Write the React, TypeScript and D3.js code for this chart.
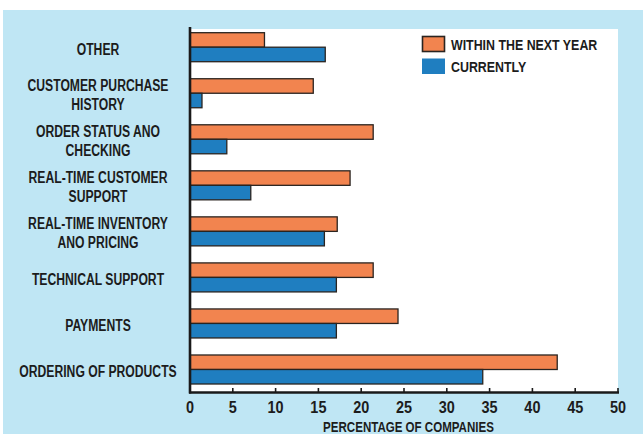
import React from "react";
import * as d3 from "d3";

const categories: string[][] = [
  ["OTHER"],
  ["CUSTOMER PURCHASE", "HISTORY"],
  ["ORDER STATUS ANO", "CHECKING"],
  ["REAL-TIME CUSTOMER", "SUPPORT"],
  ["REAL-TIME INVENTORY", "ANO PRICING"],
  ["TECHNICAL SUPPORT"],
  ["PAYMENTS"],
  ["ORDERING OF PRODUCTS"],
];
const seriesNames = ["WITHIN THE NEXT YEAR", "CURRENTLY"];
const nextYear = [8.7, 14.4, 21.4, 18.7, 17.2, 21.4, 24.3, 42.9];
const currently = [15.8, 1.4, 4.3, 7.1, 15.7, 17.1, 17.1, 34.2];
const xTicks = [0, 5, 10, 15, 20, 25, 30, 35, 40, 45, 50];
const axisTitle = "PERCENTAGE OF COMPANIES";

const W = 643;
const H = 434;
const FONT = "'Liberation Sans', Arial, sans-serif";
const ORANGE = "#F2844F";
const BLUE = "#1F7EC0";
const OUTLINE = "#2a2420";
const BG = "#BFE6F4";
const TEXT = "#1c1c1c";

type CTProps = {
  x: number;
  y: number;
  size: number;
  sx: number;
  anchor?: "start" | "middle" | "end";
  children: React.ReactNode;
};

function CText({ x, y, size, sx, anchor = "start", children }: CTProps) {
  return (
    <text
      transform={`translate(${x},${y}) scale(${sx},1)`}
      textAnchor={anchor}
      fontSize={size}
      fill={TEXT}
    >
      {children}
    </text>
  );
}

export default function App() {
  const x = d3.scaleLinear().domain([0, 50]).range([190, 618]);
  const keys = categories.map((c) => c.join(" "));
  const y = d3
    .scaleBand<string>()
    .domain(keys)
    .range([32.7, 384])
    .paddingInner(0.37)
    .paddingOuter(0);
  const sub = d3
    .scaleBand<string>()
    .domain(seriesNames)
    .range([0, y.bandwidth()]);
  const series = [
    { name: seriesNames[0], values: nextYear, color: ORANGE },
    { name: seriesNames[1], values: currently, color: BLUE },
  ];
  const axisY = 392.5;

  return (
    <svg
      width={W}
      height={H}
      style={{ position: "fixed", left: 0, top: 0 }}
      fontFamily={FONT}
      fontWeight="bold"
    >
      <rect x={0} y={0} width={W} height={H} fill="#ffffff" />
      <rect x={3} y={10} width={W - 3} height={H - 10} fill={BG} />
      <rect x={x(0)} y={29} width={x(50) - x(0)} height={axisY - 29} fill="#ffffff" />

      {series.map((s) =>
        s.values.map((v, i) => (
          <rect
            key={s.name + i}
            x={x(0)}
            y={(y(keys[i]) as number) + (sub(s.name) as number)}
            width={x(v) - x(0)}
            height={sub.bandwidth()}
            fill={s.color}
            stroke={OUTLINE}
            strokeWidth={1.3}
          />
        ))
      )}

      {categories.map((lines, i) => {
        const cy = (y(keys[i]) as number) + y.bandwidth() / 2 + 1.5;
        const lh = 19;
        const start = cy - ((lines.length - 1) * lh) / 2 + 5.8;
        return (
          <g key={keys[i]}>
            {lines.map((ln, j) => (
              <CText key={j} x={98} y={start + j * lh} size={16} sx={0.76} anchor="middle">
                {ln}
              </CText>
            ))}
          </g>
        );
      })}

      <line x1={x(0)} x2={x(0)} y1={27} y2={axisY + 1} stroke="#1a1a1a" strokeWidth={2.6} />
      <line x1={x(0) - 1} x2={x(50) + 1} y1={axisY} y2={axisY} stroke="#1a1a1a" strokeWidth={2.6} />
      {xTicks.map((t) => (
        <g key={t}>
          <line x1={x(t)} x2={x(t)} y1={axisY - 4.5} y2={axisY} stroke="#1a1a1a" strokeWidth={1.6} />
          <CText x={x(t)} y={412.5} size={17} sx={0.85} anchor="middle">
            {t}
          </CText>
        </g>
      ))}
      <CText x={408.5} y={431.5} size={15} sx={0.77} anchor="middle">
        {axisTitle}
      </CText>

      <rect x={422.5} y={36.5} width={22} height={15} fill={ORANGE} stroke={OUTLINE} strokeWidth={1.6} />
      <rect x={422} y={58.5} width={23} height={15.5} fill={BLUE} />
      <CText x={451} y={49.5} size={15.3} sx={0.81}>
        {seriesNames[0]}
      </CText>
      <CText x={451} y={71.5} size={15.3} sx={0.81}>
        {seriesNames[1]}
      </CText>
    </svg>
  );
}
